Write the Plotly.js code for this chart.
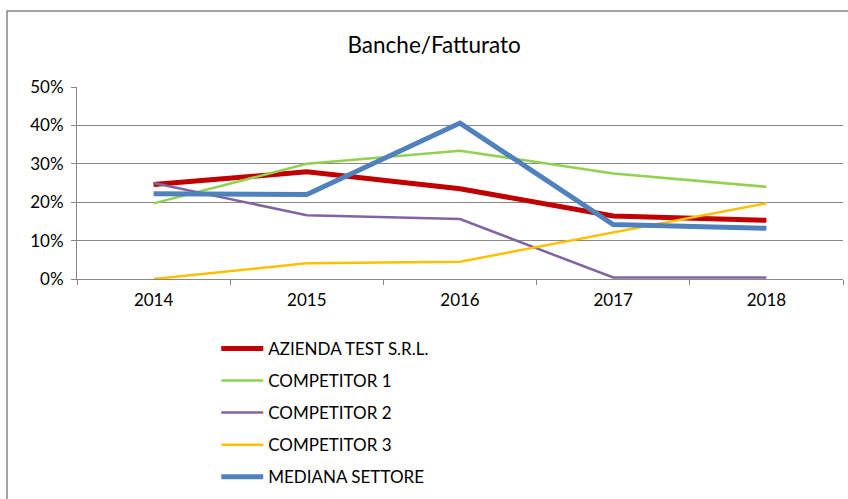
<!DOCTYPE html>
<html>
<head>
<meta charset="utf-8">
<script src="https://cdn.plot.ly/plotly-3.0.1.min.js"></script>
<style>
html,body{margin:0;padding:0;background:#fff;}
#chart{width:848px;height:499px;}
</style>
</head>
<body>
<div id="chart"></div>
<script>
const years = ['2014','2015','2016','2017','2018'];
const azienda = [0.246, 0.279, 0.235, 0.164, 0.153];
const competitor1 = [0.197, 0.300, 0.334, 0.275, 0.240];
const competitor2 = [0.250, 0.166, 0.156, 0.004, 0.004];
const competitor3 = [0.000, 0.041, 0.045, 0.121, 0.197];
const mediana = [0.222, 0.220, 0.406, 0.142, 0.132];
const yTicks = [0, 0.1, 0.2, 0.3, 0.4, 0.5];
const yTickLabels = ['0%', '10%', '20%', '30%', '40%', '50%'];

const seriesNames = ['AZIENDA TEST S.R.L.', 'COMPETITOR 1', 'COMPETITOR 2', 'COMPETITOR 3', 'MEDIANA SETTORE'];
const seriesData = [azienda, competitor1, competitor2, competitor3, mediana];
const colors = ['#C00000', '#92D050', '#8064A2', '#FFC000', '#4F81BD'];
const widths = [5, 2.5, 2.5, 2.5, 5];

const traces = seriesNames.map((n, i) => ({
  type: 'scatter', mode: 'lines', name: n, x: years, y: seriesData[i],
  legendgroup: 'g' + i,
  line: {color: colors[i], width: widths[i]},
  cliponaxis: false
}));

const font = "Lato, 'Liberation Sans', sans-serif";
const layout = {
  width: 848, height: 499,
  margin: {l: 77, r: 5, t: 87, b: 220, autoexpand: false},
  paper_bgcolor: '#fff', plot_bgcolor: '#fff',
  font: {family: font, size: 17, color: '#000'},
  title: {text: 'Banche/Fatturato', font: {family: font, size: 22.5, color: '#000'}, xref: 'container', x: 0.512, xanchor: 'center', yref: 'container', y: 0.91, yanchor: 'middle'},
  xaxis: {
    type: 'category', tickson: 'boundaries', ticks: 'outside', ticklen: 5, tickcolor: '#878787',
    showline: true, linecolor: '#878787', linewidth: 1, showgrid: false, zeroline: false,
    range: [-0.5, 4.5], tickfont: {family: font, size: 17, color: '#000'}, automargin: false,
    ticklabelstandoff: 6
  },
  yaxis: {
    range: [0, 0.5], tickvals: yTicks, ticktext: yTickLabels, ticks: 'outside', ticklen: 5,
    tickcolor: '#878787', showline: true, linecolor: '#878787', linewidth: 1,
    gridcolor: '#878787', gridwidth: 1, zeroline: false, tickfont: {family: font, size: 17, color: '#000'},
    automargin: false, ticklabelstandoff: 4
  },
  showlegend: true,
  legend: {
    xref: 'container', yref: 'container', x: 0.255, y: 0.337, xanchor: 'left', yanchor: 'top',
    orientation: 'v', tracegroupgap: 7, itemwidth: 42, font: {family: font, size: 17, color: '#000'},
    bgcolor: 'rgba(0,0,0,0)'
  },
  shapes: [{
    type: 'rect', xref: 'paper', yref: 'paper',
    x0: (7 - 77) / 766, x1: 1.2, y0: -1.5, y1: (279 - 11) / 192,
    line: {color: '#878787', width: 1.5}, fillcolor: 'rgba(0,0,0,0)', layer: 'below'
  }]
};

Plotly.newPlot('chart', traces, layout, {displayModeBar: false, staticPlot: true});
</script>
</body>
</html>
